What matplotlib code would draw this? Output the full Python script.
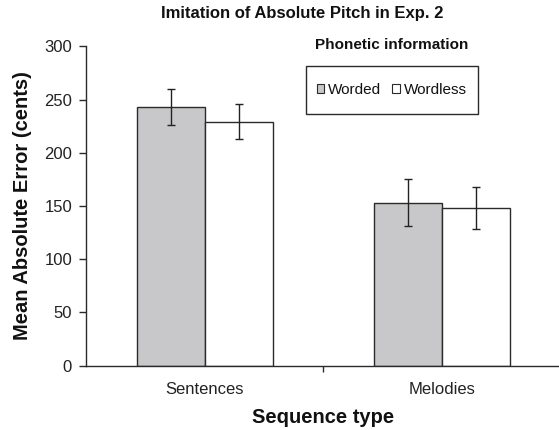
import matplotlib
matplotlib.use("Agg")
import matplotlib.pyplot as plt
from matplotlib.patches import Rectangle, Patch
import numpy as np

plt.rcParams['font.family'] = ['Liberation Sans', 'DejaVu Sans']

categories = ["Sentences", "Melodies"]
series_names = ["Worded", "Wordless"]
worded = [243, 153]
worded_err = [17, 22]
wordless = [229, 148]
wordless_err = [16.5, 19.5]
yticks = [0, 50, 100, 150, 200, 250, 300]

W, H = 559, 430
fig = plt.figure(figsize=(W / 100, H / 100), dpi=100)
ax = fig.add_axes([86 / W, (H - 365.7) / H, (560.6 - 86) / W, 319.4 / H])

x = np.arange(len(categories))
bw = 0.286
edge = '#2a2a2a'
gray = '#c8c8ca'
ax.bar(x, worded, width=-bw, align='edge', color=gray, edgecolor=edge, linewidth=1.0, zorder=2)
ax.bar(x, wordless, width=bw, align='edge', color='white', edgecolor=edge, linewidth=1.0, zorder=2)
ax.errorbar(x - bw / 2, worded, yerr=worded_err, fmt='none', ecolor='#222222',
            elinewidth=1.0, capsize=2.7, capthick=1.0, zorder=3)
ax.errorbar(x + bw / 2, wordless, yerr=wordless_err, fmt='none', ecolor='#222222',
            elinewidth=1.0, capsize=2.7, capthick=1.0, zorder=3)

ax.set_xlim(-0.5, 1.5)
ax.set_ylim(0, 300)
ax.set_yticks(yticks)
ax.set_xticks(x)
ax.set_xticklabels(categories)
ax.set_xticks([0.5], minor=True)
ax.tick_params(axis='x', which='major', length=0, pad=11.5, labelsize=12, colors='#222222')
ax.tick_params(axis='x', which='minor', length=4, width=1, color=edge, direction='out')
ax.tick_params(axis='y', length=5, width=1, color=edge, pad=5, labelsize=12, labelcolor='#222222')
for s in ['top', 'right']:
    ax.spines[s].set_visible(False)
for s in ['left', 'bottom']:
    ax.spines[s].set_color(edge)
    ax.spines[s].set_linewidth(1.0)

ax.set_xlabel("Sequence type", fontsize=14.5, fontweight='bold', color='#111111')
ax.xaxis.set_label_coords(0.5, -(408 - 365.7) / 319.4)
ax.set_ylabel("Mean Absolute Error (cents)", fontsize=14.5, fontweight='bold', color='#111111')
ax.yaxis.set_label_coords(-(86 - 32) / 474.6, 0.5)

fig.text(302.5 / W, 1 - 13.5 / H, "Imitation of Absolute Pitch in Exp. 2", ha='center', va='center',
         fontsize=12, fontweight='bold', color='#111111')

# legend box
bx0, bx1, by0, by1 = 305.7, 477.7, 65.7, 114.3
fig.patches.append(Rectangle((bx0 / W, 1 - by1 / H), (bx1 - bx0) / W, (by1 - by0) / H,
                             transform=fig.transFigure, facecolor='white', edgecolor=edge,
                             linewidth=1.0, zorder=5))
fig.text((bx0 + bx1) / 2 / W, 1 - 45 / H, "Phonetic information", ha='center', va='center',
         fontsize=11, fontweight='bold', color='#111111')
handles = [Patch(facecolor=gray, edgecolor=edge, linewidth=0.8),
           Patch(facecolor='white', edgecolor=edge, linewidth=0.8)]
leg = fig.legend(handles, series_names, loc='center', ncol=2, frameon=False,
                 bbox_to_anchor=((bx0 + bx1) / 2 / W, 1 - (by0 + by1) / 2 / H),
                 fontsize=11, handlelength=0.5, handleheight=0.5, handletextpad=0.25,
                 columnspacing=0.7, borderpad=0)
leg.set_zorder(6)
for t in leg.get_texts():
    t.set_color('#111111')

fig.savefig("out.png", dpi=100)
